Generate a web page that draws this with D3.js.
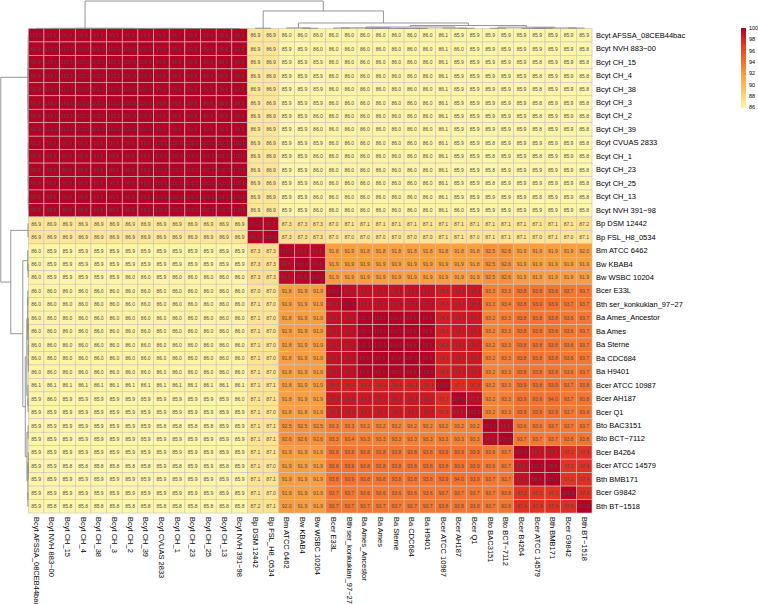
<!DOCTYPE html>
<html><head><meta charset="utf-8">
<script src="https://cdn.jsdelivr.net/npm/d3@7/dist/d3.min.js"></script>
<style>body{margin:0;background:#fff}svg{display:block}text{font-family:"Liberation Sans",Arial,sans-serif}</style>
</head><body><svg id="c" width="758" height="604"></svg>
<script>
const labels = ["Bcyt AFSSA_08CEB44bac","Bcyt NVH 883\u221200","Bcyt CH_15","Bcyt CH_4","Bcyt CH_38","Bcyt CH_3","Bcyt CH_2","Bcyt CH_39","Bcyt CVUAS 2833","Bcyt CH_1","Bcyt CH_23","Bcyt CH_25","Bcyt CH_13","Bcyt NVH 391\u221298","Bp DSM 12442","Bp FSL_H8_0534","Bm ATCC 6462","Bw KBAB4","Bw WSBC 10204","Bcer E33L","Bth ser_konkukian_97\u221227","Ba Ames_Ancestor","Ba Ames","Ba Sterne","Ba CDC684","Ba H9401","Bcer ATCC 10987","Bcer AH187","Bcer Q1","Bto BAC3151","Bto BCT\u22127112","Bcer B4264","Bcer ATCC 14579","Bth BMB171","Bcer G9842","Bth BT\u22121518"];

const values = [
[100.0,99.9,99.9,99.9,99.9,99.9,99.9,99.9,99.9,99.9,99.9,99.9,99.9,99.9,86.9,86.9,86.0,86.0,86.0,86.0,86.0,86.0,86.0,86.0,86.0,86.0,86.1,85.9,85.9,85.9,85.9,85.9,85.9,85.9,85.9,85.9],
[99.9,100.0,100.0,100.0,100.0,100.0,100.0,100.0,99.9,99.9,99.9,99.9,99.9,99.9,86.9,86.9,85.9,85.9,86.0,86.0,86.0,86.0,86.0,86.0,86.0,86.0,86.1,86.0,85.9,85.9,85.9,85.9,85.9,85.9,85.9,85.8],
[99.9,100.0,100.0,100.0,100.0,100.0,100.0,100.0,99.9,99.9,99.9,99.9,99.9,99.9,86.9,86.9,85.9,85.9,85.9,86.0,86.0,86.0,86.0,86.0,86.0,86.0,86.1,85.9,85.9,85.9,85.9,85.9,85.8,85.9,85.9,85.8],
[99.9,100.0,100.0,100.0,100.0,100.0,100.0,100.0,99.9,99.9,99.9,99.9,99.9,99.9,86.9,86.9,85.9,85.9,85.9,86.0,86.0,86.0,86.0,86.0,86.0,86.0,86.1,85.9,85.9,85.9,85.9,85.9,85.8,85.9,85.9,85.8],
[99.9,100.0,100.0,100.0,100.0,100.0,100.0,100.0,99.9,99.9,99.9,99.9,99.9,99.9,86.9,86.9,85.9,85.9,85.9,86.0,86.0,86.0,86.0,86.0,86.0,86.0,86.1,85.9,85.9,85.9,85.9,85.9,85.8,85.9,85.9,85.8],
[99.9,100.0,100.0,100.0,100.0,100.0,100.0,100.0,99.9,99.9,99.9,99.9,99.9,99.9,86.9,86.9,85.9,85.9,85.9,86.0,86.0,86.0,86.0,86.0,86.0,86.0,86.1,85.9,85.9,85.9,85.9,85.9,85.8,85.9,85.9,85.8],
[99.9,100.0,100.0,100.0,100.0,100.0,100.0,100.0,99.9,99.9,99.9,99.9,99.9,99.9,86.9,86.9,85.9,85.9,86.0,86.0,86.0,86.0,86.0,86.0,86.0,86.0,86.1,85.9,85.9,85.9,85.9,85.9,85.8,85.9,85.9,85.8],
[99.9,100.0,100.0,100.0,100.0,100.0,100.0,100.0,99.9,99.9,99.9,99.9,99.9,99.9,86.9,86.9,85.9,85.9,86.0,86.0,86.0,86.0,86.0,86.0,86.0,86.0,86.1,85.9,85.9,85.9,85.9,85.9,85.8,85.9,85.9,85.8],
[99.9,99.9,99.9,99.9,99.9,99.9,99.9,99.9,100.0,100.0,100.0,100.0,100.0,100.0,86.9,86.9,85.9,85.9,85.9,86.0,86.0,86.0,86.0,86.0,86.0,86.0,86.1,85.9,85.9,85.8,85.9,85.9,85.9,85.9,85.9,85.8],
[99.9,99.9,99.9,99.9,99.9,99.9,99.9,99.9,100.0,100.0,100.0,100.0,100.0,100.0,86.9,86.9,85.9,85.9,86.0,86.0,86.0,86.0,86.0,86.0,86.0,86.0,86.1,85.9,85.9,85.8,85.9,85.9,85.8,85.9,85.9,85.8],
[99.9,99.9,99.9,99.9,99.9,99.9,99.9,99.9,100.0,100.0,100.0,100.0,100.0,100.0,86.9,86.9,85.9,85.9,86.0,86.0,86.0,86.0,86.0,86.0,86.0,86.0,86.1,85.9,85.9,85.8,85.9,85.9,85.9,85.9,85.9,85.8],
[99.9,99.9,99.9,99.9,99.9,99.9,99.9,99.9,100.0,100.0,100.0,100.0,100.0,100.0,86.9,86.9,85.9,85.9,86.0,86.0,86.0,86.0,86.0,86.0,86.0,86.0,86.1,85.9,85.9,85.8,85.9,85.9,85.9,85.9,85.9,85.8],
[99.9,99.9,99.9,99.9,99.9,99.9,99.9,99.9,100.0,100.0,100.0,100.0,100.0,100.0,86.9,86.9,85.9,85.9,86.0,86.0,86.0,86.0,86.0,86.0,86.0,86.0,86.1,85.9,85.9,85.9,85.9,85.9,85.8,85.9,85.9,85.8],
[99.9,99.9,99.9,99.9,99.9,99.9,99.9,99.9,100.0,100.0,100.0,100.0,100.0,100.0,86.9,86.9,85.9,85.9,86.0,86.0,86.0,86.0,86.0,86.0,86.0,86.0,86.1,86.0,85.9,85.9,85.9,85.9,85.9,85.9,85.9,85.8],
[86.9,86.9,86.9,86.9,86.9,86.9,86.9,86.9,86.9,86.9,86.9,86.9,86.9,86.9,100.0,99.7,87.3,87.3,87.3,87.0,87.1,87.1,87.1,87.1,87.1,87.1,87.1,87.1,87.1,87.1,87.1,87.1,87.1,87.1,87.1,87.2],
[86.9,86.9,86.9,86.9,86.9,86.9,86.9,86.9,86.9,86.9,86.9,86.9,86.9,86.9,99.7,100.0,87.3,87.3,87.3,87.0,87.0,87.0,87.0,87.0,87.0,87.0,87.1,87.1,87.0,87.1,87.1,87.1,87.0,87.1,87.0,87.1],
[86.0,85.9,85.9,85.9,85.9,85.9,85.9,85.9,85.9,85.9,85.9,85.9,85.9,85.9,87.3,87.3,100.0,99.6,99.6,91.8,91.9,91.8,91.8,91.8,91.8,91.8,91.8,91.8,91.8,92.5,92.6,91.9,91.9,91.9,91.9,92.0],
[86.0,85.9,85.9,85.9,85.9,85.9,85.9,85.9,85.9,85.9,85.9,85.9,85.9,85.9,87.3,87.3,99.6,100.0,99.8,91.9,91.9,91.9,91.9,91.9,91.9,91.9,91.9,91.9,91.8,92.5,92.6,91.9,91.9,91.9,91.9,91.9],
[86.0,85.9,85.9,85.9,85.9,85.9,86.0,86.0,85.9,86.0,86.0,86.0,86.0,86.0,87.3,87.3,99.6,99.8,100.0,91.9,91.9,91.9,91.9,91.9,91.9,91.9,91.9,91.9,91.9,92.5,92.6,91.9,91.9,91.9,91.9,91.9],
[86.0,86.0,86.0,86.0,86.0,86.0,86.0,86.0,86.0,86.0,86.0,86.0,86.0,86.0,87.0,87.0,91.8,91.9,91.9,100.0,99.3,99.1,99.1,99.1,99.1,99.1,98.5,98.8,98.8,93.3,93.3,93.8,93.8,93.8,93.7,93.7],
[86.0,86.0,86.0,86.0,86.0,86.0,86.0,86.0,86.0,86.0,86.0,86.0,86.0,86.0,87.1,87.0,91.9,91.9,91.9,99.3,100.0,99.2,99.2,99.2,99.2,99.2,98.4,98.8,98.8,93.3,93.4,93.8,93.9,93.9,93.7,93.7],
[86.0,86.0,86.0,86.0,86.0,86.0,86.0,86.0,86.0,86.0,86.0,86.0,86.0,86.0,87.1,87.0,91.8,91.9,91.9,99.1,99.2,100.0,100.0,100.0,99.9,99.9,98.4,98.7,98.7,93.2,93.3,93.8,93.8,93.8,93.6,93.7],
[86.0,86.0,86.0,86.0,86.0,86.0,86.0,86.0,86.0,86.0,86.0,86.0,86.0,86.0,87.1,87.0,91.9,91.9,91.9,99.1,99.2,100.0,100.0,100.0,99.9,99.9,98.3,98.7,98.7,93.2,93.3,93.8,93.8,93.8,93.6,93.7],
[86.0,86.0,86.0,86.0,86.0,86.0,86.0,86.0,86.0,86.0,86.0,86.0,86.0,86.0,87.1,87.0,91.8,91.9,91.9,99.1,99.2,100.0,100.0,100.0,99.9,99.9,98.4,98.7,98.7,93.2,93.3,93.8,93.8,93.8,93.6,93.7],
[86.0,86.0,86.0,86.0,86.0,86.0,86.0,86.0,86.0,86.0,86.0,86.0,86.0,86.0,87.1,87.0,91.8,91.9,91.9,99.1,99.2,99.9,99.9,99.9,100.0,99.9,98.3,98.7,98.7,93.2,93.3,93.8,93.8,93.8,93.6,93.7],
[86.0,86.0,86.0,86.0,86.0,86.0,86.0,86.0,86.0,86.0,86.0,86.0,86.0,86.0,87.1,87.0,91.8,91.9,91.9,99.1,99.2,99.9,99.9,99.9,99.9,100.0,98.3,98.7,98.7,93.2,93.3,93.8,93.8,93.8,93.6,93.7],
[86.1,86.1,86.1,86.1,86.1,86.1,86.1,86.1,86.1,86.1,86.1,86.1,86.1,86.1,87.1,87.1,91.8,91.9,91.9,98.5,98.4,98.4,98.3,98.4,98.3,98.3,100.0,97.7,97.8,93.2,93.3,93.9,93.8,93.9,93.7,93.8],
[85.9,86.0,85.9,85.9,85.9,85.9,85.9,85.9,85.9,85.9,85.9,85.9,85.9,86.0,87.1,87.1,91.8,91.9,91.9,98.8,98.8,98.7,98.7,98.7,98.7,98.7,97.7,100.0,99.4,93.2,93.3,93.9,93.9,94.0,93.7,93.8],
[85.9,85.9,85.9,85.9,85.9,85.9,85.9,85.9,85.9,85.9,85.9,85.9,85.9,85.9,87.1,87.0,91.8,91.8,91.9,98.8,98.8,98.7,98.7,98.7,98.7,98.7,97.8,99.4,100.0,93.2,93.3,93.9,93.9,93.9,93.7,93.8],
[85.9,85.9,85.9,85.9,85.9,85.9,85.9,85.9,85.8,85.8,85.8,85.8,85.9,85.9,87.1,87.1,92.5,92.5,92.5,93.3,93.3,93.2,93.2,93.2,93.2,93.2,93.2,93.2,93.2,100.0,99.6,93.6,93.6,93.7,93.7,93.7],
[85.9,85.9,85.9,85.9,85.9,85.9,85.9,85.9,85.9,85.9,85.9,85.9,85.9,85.9,87.1,87.1,92.6,92.6,92.6,93.3,93.4,93.3,93.3,93.3,93.3,93.3,93.3,93.3,93.3,99.6,100.0,93.7,93.7,93.7,93.8,93.8],
[85.9,85.9,85.9,85.9,85.9,85.9,85.9,85.9,85.9,85.9,85.9,85.9,85.9,85.9,87.1,87.1,91.9,91.9,91.9,93.8,93.8,93.8,93.8,93.8,93.8,93.8,93.9,93.9,93.9,93.6,93.7,100.0,99.1,99.1,97.2,97.4],
[85.9,85.9,85.8,85.8,85.8,85.8,85.8,85.8,85.9,85.8,85.9,85.9,85.8,85.9,87.1,87.0,91.9,91.9,91.9,93.8,93.9,93.8,93.8,93.8,93.8,93.8,93.8,93.9,93.9,93.6,93.7,99.1,100.0,99.9,97.2,97.4],
[85.9,85.9,85.9,85.9,85.9,85.9,85.9,85.9,85.9,85.9,85.9,85.9,85.9,85.9,87.1,87.1,91.9,91.9,91.9,93.8,93.9,93.8,93.8,93.8,93.8,93.8,93.9,94.0,93.9,93.7,93.7,99.1,99.9,100.0,97.2,97.4],
[85.9,85.9,85.9,85.9,85.9,85.9,85.9,85.9,85.9,85.9,85.9,85.9,85.9,85.9,87.1,87.0,91.9,91.9,91.9,93.7,93.7,93.6,93.6,93.6,93.6,93.6,93.7,93.7,93.7,93.7,93.8,97.2,97.2,97.2,100.0,97.6],
[85.9,85.8,85.8,85.8,85.8,85.8,85.8,85.8,85.8,85.8,85.8,85.8,85.8,85.8,87.2,87.1,92.0,91.9,91.9,93.7,93.7,93.7,93.7,93.7,93.7,93.7,93.8,93.8,93.8,93.7,93.8,97.4,97.4,97.4,97.6,100.0]
];

// hierarchical clustering tree: [mergeHeight, left, right]; leaves = label index
const bcytTree = [0.3, 0, [0.2, [0.05, 1, [0.04, [0.02, 2, 3], [0.03, [0.02, 4, 5], [0.02, 6, 7]]]], [0.05, [0.03, 8, 9], [0.03, [0.02, 10, 11], [0.02, 12, 13]]]]];
const anthTree = [1.3, [0.9, 19, 20], [0.1, [0.05, 21, 22], [0.05, 23, [0.03, 24, 25]]]];
const cer3Tree = [0.8, 26, [0.4, 27, 28]];
const btoTree = [0.4, 29, 30];
const b5Tree = [1.0, [0.2, 31, [0.1, 32, 33]], [0.9, 34, 35]];
const tree = [54, bcytTree, [34.4, [0.6, 14, 15], [10.8, [1.2, 16, [0.4, 17, 18]], [5.9, [2.9, anthTree, cer3Tree], [2.6, btoTree, b5Tree]]]]];

const legendTicks = [86, 88, 90, 92, 94, 96, 98, 100];
const colorDomain = [85.8, 87, 88, 90, 92, 94, 96, 98, 100];
const colorRange = ["#FFF7AA", "#FEE594", "#FED47A", "#FDB95A", "#F99C3E", "#F4702D", "#EE4A26", "#DD2420", "#B50026"];

const svg = d3.select("#c");
const n = labels.length;
const x = d3.scaleBand().domain(d3.range(n)).range([28.3, 592]);
const y = d3.scaleBand().domain(d3.range(n)).range([28.5, 513]);
const color = d3.scaleLinear().domain(colorDomain).range(colorRange).clamp(true);
const fmt = d3.format(".1f");

// cells
const cells = [];
values.forEach((row, i) => row.forEach((v, j) => cells.push({i, j, v})));
const g = svg.append("g");
g.selectAll("rect").data(cells).join("rect")
  .attr("x", d => x(d.j)).attr("y", d => y(d.i))
  .attr("width", x.bandwidth()).attr("height", y.bandwidth())
  .attr("fill", d => color(d.v)).attr("stroke", "#c4c4c4").attr("stroke-width", 0.6);
g.selectAll("text").data(cells).join("text")
  .attr("x", d => x(d.j) + x.bandwidth() / 2).attr("y", d => y(d.i) + y.bandwidth() / 2)
  .attr("text-anchor", "middle").attr("dominant-baseline", "central")
  .attr("font-size", 5).attr("fill", "#4d4d4d").text(d => fmt(d.v));

// row labels
svg.append("g").selectAll("text").data(labels).join("text")
  .attr("x", 596).attr("y", (d, i) => y(i) + y.bandwidth() / 2)
  .attr("dominant-baseline", "central").attr("font-size", 7.5).attr("fill", "#000").text(d => d);
// column labels
svg.append("g").selectAll("text").data(labels).join("text")
  .attr("transform", (d, i) => `translate(${x(i) + x.bandwidth() / 2},517) rotate(90)`)
  .attr("dominant-baseline", "central").attr("font-size", 7.5).attr("fill", "#000").text(d => d);

// dendrograms
function layout(node) {
  if (typeof node === "number") return {pos: node, h: 0, kids: []};
  const a = layout(node[1]), b = layout(node[2]);
  return {pos: (a.pos + b.pos) / 2, h: node[0], kids: [a, b]};
}
const root = layout(tree);
const hTop = d3.scaleLinear().domain([0, root.h]).range([28.5, 1]);
const hLeft = d3.scaleLinear().domain([0, root.h]).range([28.3, 0.8]);
const colPos = p => x(0) + (p + 0.5) * x.bandwidth();
const rowPos = p => y(0) + (p + 0.5) * y.bandwidth();
const segsTop = [], segsLeft = [];
(function walk(nd) {
  if (!nd.kids.length) return;
  const [a, b] = nd.kids;
  segsTop.push([colPos(a.pos), hTop(a.h), colPos(a.pos), hTop(nd.h), colPos(b.pos), hTop(nd.h), colPos(b.pos), hTop(b.h)]);
  segsLeft.push([hLeft(a.h), rowPos(a.pos), hLeft(nd.h), rowPos(a.pos), hLeft(nd.h), rowPos(b.pos), hLeft(b.h), rowPos(b.pos)]);
  walk(a); walk(b);
})(root);
const line = s => `M${s[0]},${s[1]}L${s[2]},${s[3]}L${s[4]},${s[5]}L${s[6]},${s[7]}`;
svg.append("g").selectAll("path").data(segsTop.concat(segsLeft)).join("path")
  .attr("d", line).attr("fill", "none").attr("stroke", "#8a8a8a").attr("stroke-width", 0.9);

// legend
const ly = d3.scaleLinear().domain([85.8, 100]).range([108.5, 28]);
const grad = svg.append("defs").append("linearGradient").attr("id", "lg")
  .attr("x1", 0).attr("x2", 0).attr("y1", 1).attr("y2", 0);
d3.range(0, 1.0001, 0.05).forEach(t => {
  const v = 85.8 + t * (100 - 85.8);
  grad.append("stop").attr("offset", t).attr("stop-color", color(v));
});
svg.append("rect").attr("x", 741).attr("y", ly(100)).attr("width", 5).attr("height", ly(85.8) - ly(100)).attr("fill", "url(#lg)");
svg.append("g").selectAll("text").data(legendTicks).join("text")
  .attr("x", 749).attr("y", d => ly(d)).attr("dominant-baseline", "central")
  .attr("font-size", 5.5).attr("fill", "#000").text(d => d);
</script></body></html>
